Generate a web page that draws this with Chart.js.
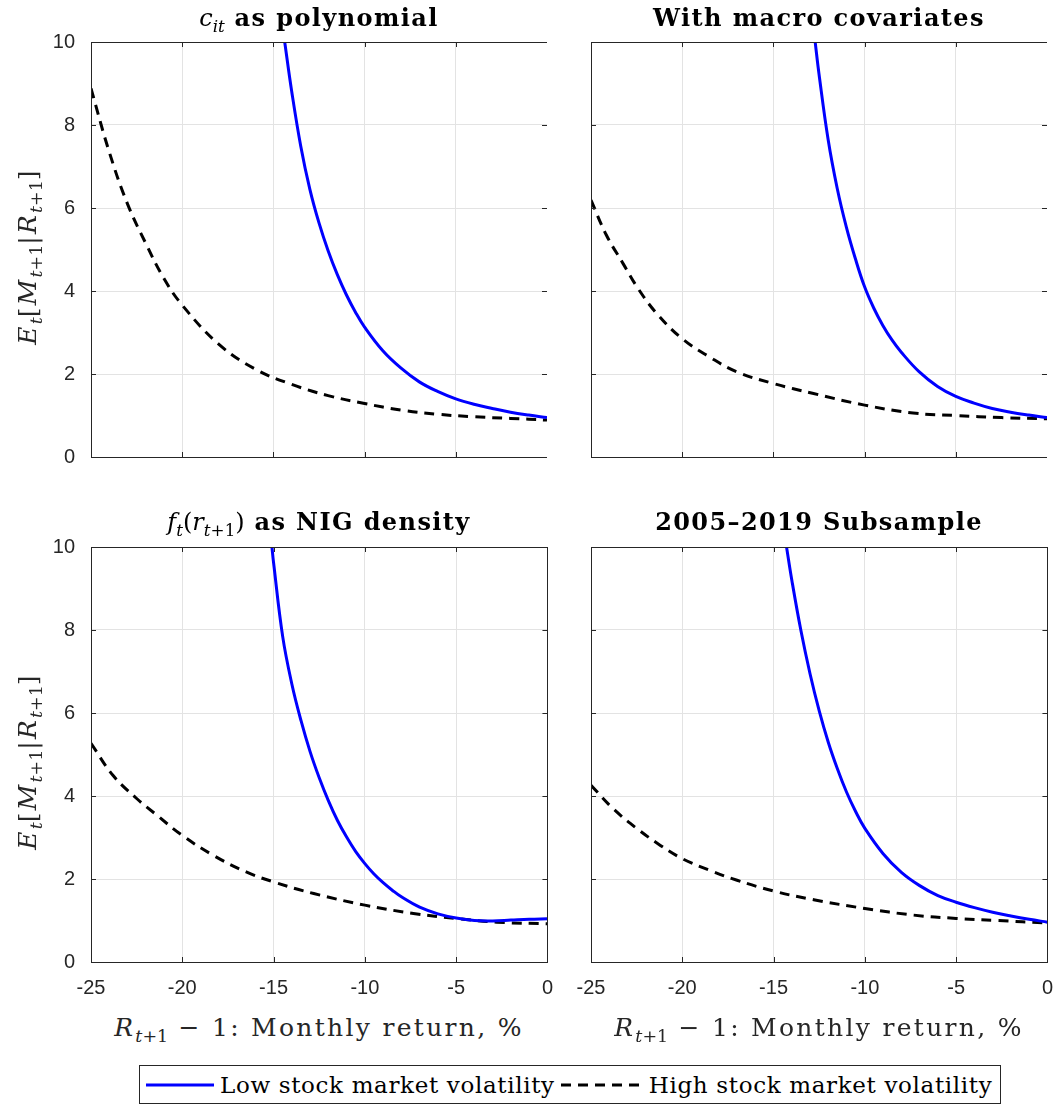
<!DOCTYPE html>
<html>
<head>
<meta charset="utf-8">
<script src="https://cdn.jsdelivr.net/npm/chart.js@4"></script>
<style>
  body { margin: 0; background: #fff; }
  #page { position: relative; width: 1057px; height: 1106px; background: #fff; overflow: hidden; }
  canvas { position: absolute; }
  .title { position: absolute; width: 456px; text-align: center; font-family: "DejaVu Serif", serif; font-weight: bold; font-size: 24px; letter-spacing: 1.4px; color: #000; white-space: nowrap; }
  .title .m { font-weight: normal; letter-spacing: 0; }
  .ylab { position: absolute; width: 300px; text-align: center; font-family: "DejaVu Serif", serif; font-size: 25px; letter-spacing: 2.2px; color: #262626; transform: rotate(-90deg); white-space: nowrap; }
  .xlab { position: absolute; width: 456px; text-align: center; font-family: "DejaVu Serif", serif; font-size: 25px; letter-spacing: 2.3px; color: #262626; white-space: nowrap; }
  sub { font-size: 70%; vertical-align: -0.35em; line-height: 0; letter-spacing: 0; }
  #legend { position: absolute; left: 139px; top: 1065px; width: 860px; height: 37px; border: 1px solid #262626; display: flex; align-items: center; font-family: "DejaVu Serif", serif; font-size: 23px; letter-spacing: 0.65px; color: #000; white-space: nowrap; }
  #legend svg { margin: 0 6px 0 6px; }
</style>
</head>
<body>
<div id="page">
  <canvas id="p1"></canvas>
  <canvas id="p2"></canvas>
  <canvas id="p3"></canvas>
  <canvas id="p4"></canvas>
  <div class="title" style="left:91px; top:3px;"><span class="m"><i>c</i><sub><i>it</i></sub></span> as polynomial</div>
  <div class="title" style="left:591px; top:3px;">With macro covariates</div>
  <div class="title" style="left:91px; top:507px;"><span class="m"><i>f</i><sub><i>t</i></sub>(<i>r</i><sub><i>t</i>+1</sub>)</span> as NIG density</div>
  <div class="title" style="left:591px; top:507px;">2005–2019 Subsample</div>
  <div class="ylab" style="left:-123px; top:242px;"><i>E</i><sub><i>t</i></sub>[<i>M</i><sub><i>t</i>+1</sub>|<i>R</i><sub><i>t</i>+1</sub>]</div>
  <div class="ylab" style="left:-123px; top:747px;"><i>E</i><sub><i>t</i></sub>[<i>M</i><sub><i>t</i>+1</sub>|<i>R</i><sub><i>t</i>+1</sub>]</div>
  <div class="xlab" style="left:91px; top:1013px;"><i>R</i><sub><i>t</i>+1</sub> − 1: Monthly return, %</div>
  <div class="xlab" style="left:591px; top:1013px;"><i>R</i><sub><i>t</i>+1</sub> − 1: Monthly return, %</div>
  <div id="legend"></div>
</div>
<script>
// series names
const seriesNames = ["Low stock market volatility", "High stock market volatility"];
const xTicks = [-25, -20, -15, -10, -5, 0];
const yTicks = [0, 2, 4, 6, 8, 10];

// panel 1: c_it as polynomial
const lowX1 = [-14.38, -14, -13.5, -13, -12.5, -12, -11.5, -11, -10.5, -10, -9, -8, -7, -6, -5, -4, -3, -2, -1, 0];
const lowY1 = [10, 8.82, 7.49, 6.45, 5.64, 4.97, 4.40, 3.91, 3.49, 3.13, 2.56, 2.14, 1.81, 1.58, 1.40, 1.27, 1.17, 1.08, 1.01, 0.95];
const highX1 = [-25, -24, -23, -22, -21, -20, -18, -16, -14, -12, -10, -8, -6, -4, -2, 0];
const highY1 = [8.88, 7.35, 6.1, 5.15, 4.3, 3.66, 2.72, 2.12, 1.75, 1.48, 1.29, 1.13, 1.03, 0.97, 0.93, 0.89];

// panel 2: with macro covariates
const lowX2 = [-12.71, -12.5, -12, -11.5, -11, -10.5, -10, -9.5, -9, -8.5, -8, -7, -6, -5, -4, -3, -2, -1, 0];
const lowY2 = [10, 9.23, 7.65, 6.47, 5.54, 4.77, 4.10, 3.59, 3.17, 2.82, 2.53, 2.05, 1.70, 1.46, 1.30, 1.17, 1.08, 1.01, 0.95];
const highX2 = [-25, -24.16, -23.24, -22.42, -21.4, -20, -18.5, -17, -15, -12.8, -10, -7.34, -5, -2.5, 0];
const highY2 = [6.19, 5.35, 4.66, 4.06, 3.46, 2.85, 2.41, 2.05, 1.77, 1.53, 1.25, 1.06, 1.0, 0.95, 0.92];

// panel 3: f_t(r_t+1) as NIG density
const lowX3 = [-15.09, -15, -14.5, -14, -13.5, -13, -12.5, -12, -11.5, -11, -10.5, -10, -9.5, -9, -8.5, -8, -7, -6, -5, -4, -3, -2, -1, 0];
const lowY3 = [10, 9.62, 7.84, 6.70, 5.82, 5.07, 4.44, 3.89, 3.41, 3.01, 2.66, 2.37, 2.12, 1.91, 1.73, 1.57, 1.32, 1.16, 1.06, 1.00, 0.99, 1.01, 1.03, 1.04];
const highX3 = [-25, -23.8, -22.5, -21.4, -20, -18.3, -16.5, -15, -12.8, -10, -7.34, -5, -2.77, 0];
const highY3 = [5.27, 4.5, 3.94, 3.54, 3.05, 2.57, 2.17, 1.93, 1.65, 1.37, 1.17, 1.05, 0.96, 0.92];

// panel 4: 2005-2019 subsample
const lowX4 = [-14.29, -14, -13.5, -13, -12.5, -12, -11.5, -11, -10.5, -10, -9, -8, -7, -6, -5, -4, -3, -2, -1, 0];
const lowY4 = [10, 9.20, 7.98, 6.94, 6.05, 5.29, 4.65, 4.09, 3.62, 3.22, 2.61, 2.16, 1.84, 1.60, 1.44, 1.31, 1.20, 1.11, 1.03, 0.96];
const highX4 = [-25, -23.8, -22.5, -21.2, -20, -18.5, -17, -15, -12.8, -10, -7.34, -5, -2.77, 0];
const highY4 = [4.26, 3.7, 3.22, 2.81, 2.49, 2.21, 1.97, 1.71, 1.5, 1.29, 1.13, 1.05, 1.0, 0.94];

const axisColor = "#262626";
const gridColor = "#e3e3e3";
const blue = "#0000ff";
const dash = [10, 7];
const plotW = 456, plotH = 415;

// plot box and inward ticks, like matlab axes
const boxPlugin = {
  id: "box",
  afterDatasetsDraw(chart) {
    const a = chart.chartArea, ctx = chart.ctx;
    const xs = chart.scales.x, ys = chart.scales.y;
    ctx.save();
    ctx.strokeStyle = axisColor;
    ctx.lineWidth = 1;
    ctx.beginPath();
    xTicks.forEach(function(t) {
      const px = Math.round(xs.getPixelForValue(t)) + 0.5;
      ctx.moveTo(px, a.bottom); ctx.lineTo(px, a.bottom - 5);
      ctx.moveTo(px, a.top); ctx.lineTo(px, a.top + 5);
    });
    yTicks.forEach(function(t) {
      const py = Math.round(ys.getPixelForValue(t)) + 0.5;
      ctx.moveTo(a.left, py); ctx.lineTo(a.left + 5, py);
      ctx.moveTo(a.right, py); ctx.lineTo(a.right - 5, py);
    });
    ctx.stroke();
    ctx.strokeRect(Math.round(a.left) + 0.5, Math.round(a.top) + 0.5, Math.round(a.right - a.left), Math.round(a.bottom - a.top));
    ctx.restore();
  }
};

function pts(xs, ys) {
  return xs.map(function(x, i) { return { x: x, y: ys[i] }; });
}

function build(cv, lowX, lowY, highX, highY, showX, showY) {
  return new Chart(cv.getContext("2d"), {
    type: "line",
    data: {
      datasets: [
        {
          label: seriesNames[0],
          data: pts(lowX, lowY),
          borderColor: blue,
          borderWidth: 3,
          pointRadius: 0,
          tension: 0.4,
          fill: false
        },
        {
          label: seriesNames[1],
          data: pts(highX, highY),
          borderColor: "#000000",
          borderWidth: 3,
          borderDash: dash,
          pointRadius: 0,
          tension: 0.4,
          fill: false
        }
      ]
    },
    options: {
      responsive: false,
      animation: false,
      events: [],
      layout: { padding: 0 },
      plugins: { legend: { display: false }, tooltip: { enabled: false }, title: { display: false } },
      scales: {
        x: {
          type: "linear",
          min: -25, max: 0,
          afterFit: function(s) { s.height = 50; },
          afterBuildTicks: function(s) { s.ticks = xTicks.map(function(v) { return { value: v }; }); },
          grid: { color: gridColor, drawTicks: false },
          border: { display: false },
          ticks: {
            display: showX,
            padding: 14,
            color: axisColor,
            font: { family: "Liberation Sans", size: 20 },
            maxRotation: 0
          }
        },
        y: {
          type: "linear",
          min: 0, max: 10,
          afterFit: function(s) { s.width = 70; },
          afterBuildTicks: function(s) { s.ticks = yTicks.map(function(v) { return { value: v }; }); },
          grid: { color: gridColor, drawTicks: false },
          border: { display: false },
          ticks: {
            display: showY,
            padding: 16,
            color: axisColor,
            font: { family: "Liberation Sans", size: 20 }
          }
        }
      }
    },
    plugins: [boxPlugin]
  });
}

// build once, measure the chart area, then size the canvas so the plot box lands where it should
function makePanel(id, left, top, lowX, lowY, highX, highY, showX, showY) {
  const cv = document.getElementById(id);
  cv.width = 560; cv.height = 500;
  let chart = build(cv, lowX, lowY, highX, highY, showX, showY);
  const a = chart.chartArea;
  const offL = a.left, offT = a.top, extraR = 560 - a.right, extraB = 500 - a.bottom;
  chart.destroy();
  cv.width = Math.round(offL + plotW + extraR);
  cv.height = Math.round(offT + plotH + extraB);
  cv.style.width = cv.width + "px";
  cv.style.height = cv.height + "px";
  cv.style.left = (left - offL) + "px";
  cv.style.top = (top - offT) + "px";
  return build(cv, lowX, lowY, highX, highY, showX, showY);
}

makePanel("p1", 91, 42, lowX1, lowY1, highX1, highY1, false, true);
makePanel("p2", 591, 42, lowX2, lowY2, highX2, highY2, false, false);
makePanel("p3", 91, 547, lowX3, lowY3, highX3, highY3, true, true);
makePanel("p4", 591, 547, lowX4, lowY4, highX4, highY4, true, false);

// legend, built from the series names
const legend = document.getElementById("legend");
legend.innerHTML =
  '<svg width="68" height="10"><line x1="0" y1="5" x2="68" y2="5" stroke="' + blue + '" stroke-width="3"/></svg>' +
  '<span>' + seriesNames[0] + '</span>' +
  '<svg width="82" height="10"><line x1="0" y1="5" x2="82" y2="5" stroke="#000" stroke-width="3" stroke-dasharray="10,7"/></svg>' +
  '<span>' + seriesNames[1] + '</span>';
</script>
</body>
</html>
